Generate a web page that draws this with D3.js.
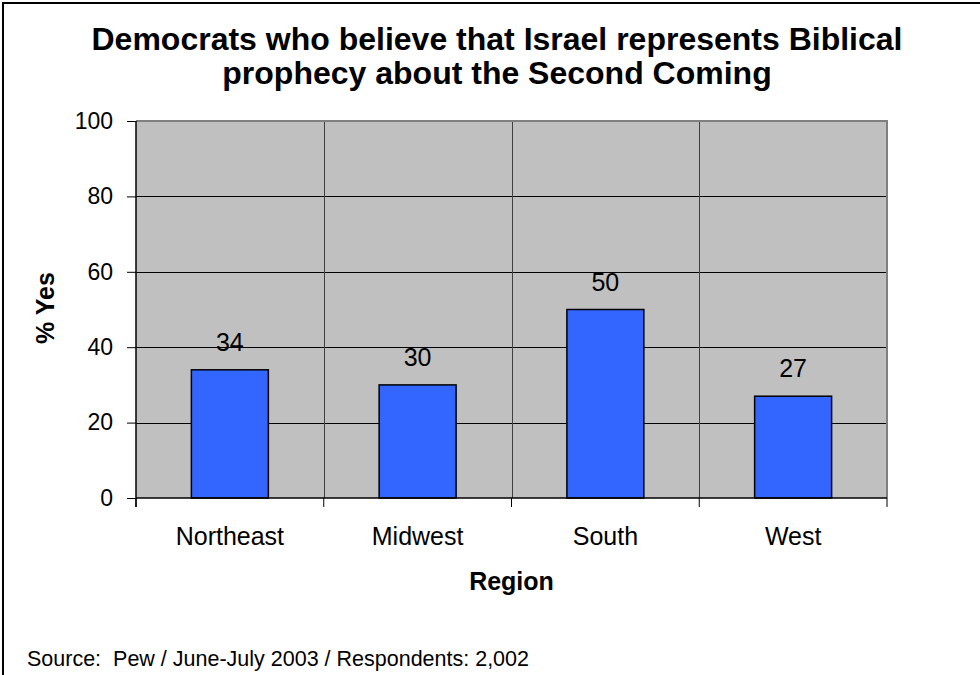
<!DOCTYPE html>
<html>
<head>
<meta charset="utf-8">
<script src="https://cdn.jsdelivr.net/npm/d3@7"></script>
<style>
  html, body { margin: 0; padding: 0; background: #fff; }
  svg { display: block; font-family: "Liberation Sans", Arial, sans-serif; }
</style>
</head>
<body>
<svg id="chart" width="980" height="675"></svg>
<script>
const categories = ["Northeast", "Midwest", "South", "West"];
const values = [34, 30, 50, 27];
const yTicks = [0, 20, 40, 60, 80, 100];
const titleLines = ["Democrats who believe that Israel represents Biblical", "prophecy about the Second Coming"];
const xTitle = "Region";
const yTitle = "% Yes";
const sourceText = "Source:  Pew / June-July 2003 / Respondents: 2,002";

const svg = d3.select("#chart");
const W = 980, H = 675;
const plot = { left: 136, right: 887, top: 121, bottom: 498 };
const FONT = "Liberation Sans, Arial, sans-serif";

// outer frame
svg.append("rect").attr("x", 3).attr("y", 3).attr("width", W + 10).attr("height", H + 10)
  .attr("fill", "#fff").attr("stroke", "#000").attr("stroke-width", 2);

const x = d3.scaleBand().domain(categories).range([plot.left, plot.right]).padding(0);
const y = d3.scaleLinear().domain([0, 100]).range([plot.bottom, plot.top]);

// plot background
svg.append("rect").attr("x", plot.left).attr("y", y(100))
  .attr("width", plot.right - plot.left).attr("height", y(0) - y(100))
  .attr("fill", "#c0c0c0");

// horizontal gridlines
svg.append("g").selectAll("line").data(yTicks.filter(d => d > 0 && d < 100)).join("line")
  .attr("x1", plot.left).attr("x2", plot.right)
  .attr("y1", d => Math.round(y(d)) + 0.5).attr("y2", d => Math.round(y(d)) + 0.5)
  .attr("stroke", "#000").attr("stroke-width", 1);

// vertical gridlines at category boundaries
svg.append("g").selectAll("line").data(categories.slice(1)).join("line")
  .attr("x1", d => Math.round(x(d)) + 0.5).attr("x2", d => Math.round(x(d)) + 0.5)
  .attr("y1", y(100)).attr("y2", y(0))
  .attr("stroke", "#404040").attr("stroke-width", 1);

// plot border top/right (gray)
svg.append("path")
  .attr("d", `M${plot.left},${y(100)} H${plot.right} V${y(0)}`)
  .attr("fill", "none").attr("stroke", "#808080").attr("stroke-width", 2);

// bars
const barW = x.bandwidth() * 0.41;
svg.append("g").selectAll("rect").data(values).join("rect")
  .attr("x", (d, i) => x(categories[i]) + x.bandwidth() / 2 - barW / 2)
  .attr("y", d => y(d))
  .attr("width", barW)
  .attr("height", d => y(0) - y(d))
  .attr("fill", "#3366ff").attr("stroke", "#000").attr("stroke-width", 1.5);

// data labels
svg.append("g").selectAll("text").data(values).join("text")
  .attr("x", (d, i) => x(categories[i]) + x.bandwidth() / 2)
  .attr("y", d => y(d) - 19)
  .attr("text-anchor", "middle").attr("font-size", 25).attr("font-family", FONT).attr("fill", "#000")
  .text(d => d);

// y axis
const yAxis = d3.axisLeft(y).tickValues(yTicks).tickSize(9).tickPadding(14);
const gy = svg.append("g").attr("transform", `translate(${plot.left},0)`).call(yAxis);
gy.select(".domain").remove();
gy.selectAll(".tick line").attr("stroke", "#000");
gy.selectAll(".tick text").attr("font-size", 23).attr("font-family", FONT).attr("fill", "#000");
svg.append("line").attr("x1", plot.left).attr("x2", plot.left).attr("y1", y(100)).attr("y2", y(0) + 9)
  .attr("stroke", "#000").attr("stroke-width", 1.5);

// x axis
svg.append("line").attr("x1", plot.left).attr("x2", plot.right).attr("y1", y(0)).attr("y2", y(0))
  .attr("stroke", "#000").attr("stroke-width", 1.5);
const boundaries = categories.map(c => x(c)).concat([plot.right]);
svg.append("g").selectAll("line").data(boundaries).join("line")
  .attr("x1", d => d).attr("x2", d => d).attr("y1", y(0)).attr("y2", y(0) + 9)
  .attr("stroke", "#000").attr("stroke-width", 1);
svg.append("g").selectAll("text").data(categories).join("text")
  .attr("x", d => x(d) + x.bandwidth() / 2).attr("y", 545)
  .attr("text-anchor", "middle").attr("font-size", 25).attr("fill", "#000")
  .text(d => d);

// titles
svg.append("g").selectAll("text").data(titleLines).join("text")
  .attr("x", 497).attr("y", (d, i) => 50 + i * 34)
  .attr("text-anchor", "middle").attr("font-size", 32).attr("font-weight", "bold")
  .text(d => d);

svg.append("text").attr("x", (plot.left + plot.right) / 2).attr("y", 590)
  .attr("text-anchor", "middle").attr("font-size", 25).attr("font-weight", "bold")
  .text(xTitle);

svg.append("text").attr("transform", "translate(54,308) rotate(-90)")
  .attr("text-anchor", "middle").attr("font-size", 25).attr("font-weight", "bold")
  .text(yTitle);

svg.append("text").attr("x", 27).attr("y", 666).attr("font-size", 21.5)
  .style("white-space", "pre").text(sourceText);
</script>
</body>
</html>
